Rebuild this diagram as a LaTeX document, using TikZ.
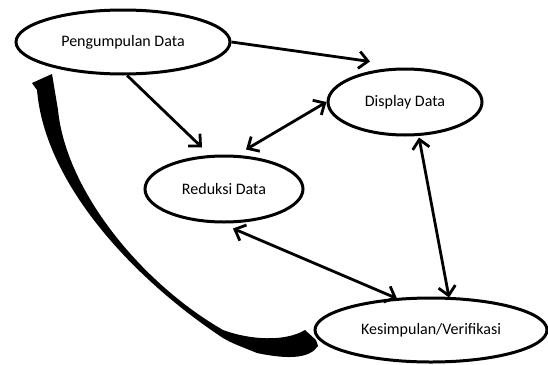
\documentclass[tikz,border=0pt]{standalone}
\usepackage{fontspec}
\setmainfont{Carlito}
\usetikzlibrary{positioning,arrows.meta,shapes.geometric,calc,backgrounds}

\begin{document}
\begin{tikzpicture}[
    x=1pt, y=-1pt,
    font=\fontsize{16}{19}\selectfont,
    stage/.style={ellipse, draw, line width=3pt, inner sep=0pt, fill=white},
    arr/.style={line width=2.8pt, -{Straight Barb[length=9pt,width=17pt]}},
    darr/.style={line width=2.8pt,
                 {Straight Barb[length=9pt,width=17pt]}-{Straight Barb[length=9pt,width=17pt]}}
  ]
  \useasboundingbox (0,0) rectangle (548,364);

  % Stages
  \node[stage, minimum width=214pt, minimum height=64pt] (kumpul) at (123,42) {Pengumpulan Data};
  \node[stage, minimum width=154pt, minimum height=66pt] (display) at (405,102) {Display Data};
  \node[stage, minimum width=158pt, minimum height=66pt] (reduksi) at (224,189) {Reduksi Data};
  \node[stage, minimum width=232pt, minimum height=64pt] (simpul) at (431,330) {Kesimpulan/Verifikasi};

  % Flow between the stages
  \draw[arr] (kumpul.east) -- ($(display.north)+(-35,-6)$);
  \draw[arr] (kumpul.-83) -- ($(reduksi.north)+(-22,-7)$);
  \draw[darr] ($(reduksi.north)+(22,-5)$) -- (display.west);
  \draw[darr] ($(display.south)+(14,1)$) -- ($(simpul.north)+(18,1)$);
  \draw[darr] ($(reduksi.south)+(9,5)$) -- ($(simpul.north)+(-34,2)$);

  % Feedback loop back to the start (tapered arrow)
  \begin{scope}[on background layer]
    \fill (58,110) .. controls (66,190) and (140,282) .. (223,330)
          .. controls (250,340) and (285,342) .. (305,330)
          -- (316,340) -- (318,346)
          .. controls (310,358) and (290,360) .. (257,353)
          .. controls (245,348) and (233,344) .. (223,338)
          .. controls (135,280) and (45,185) .. (37,90)
          -- (32,83) -- (52,74) -- cycle;
  \end{scope}
\end{tikzpicture}
\end{document}
